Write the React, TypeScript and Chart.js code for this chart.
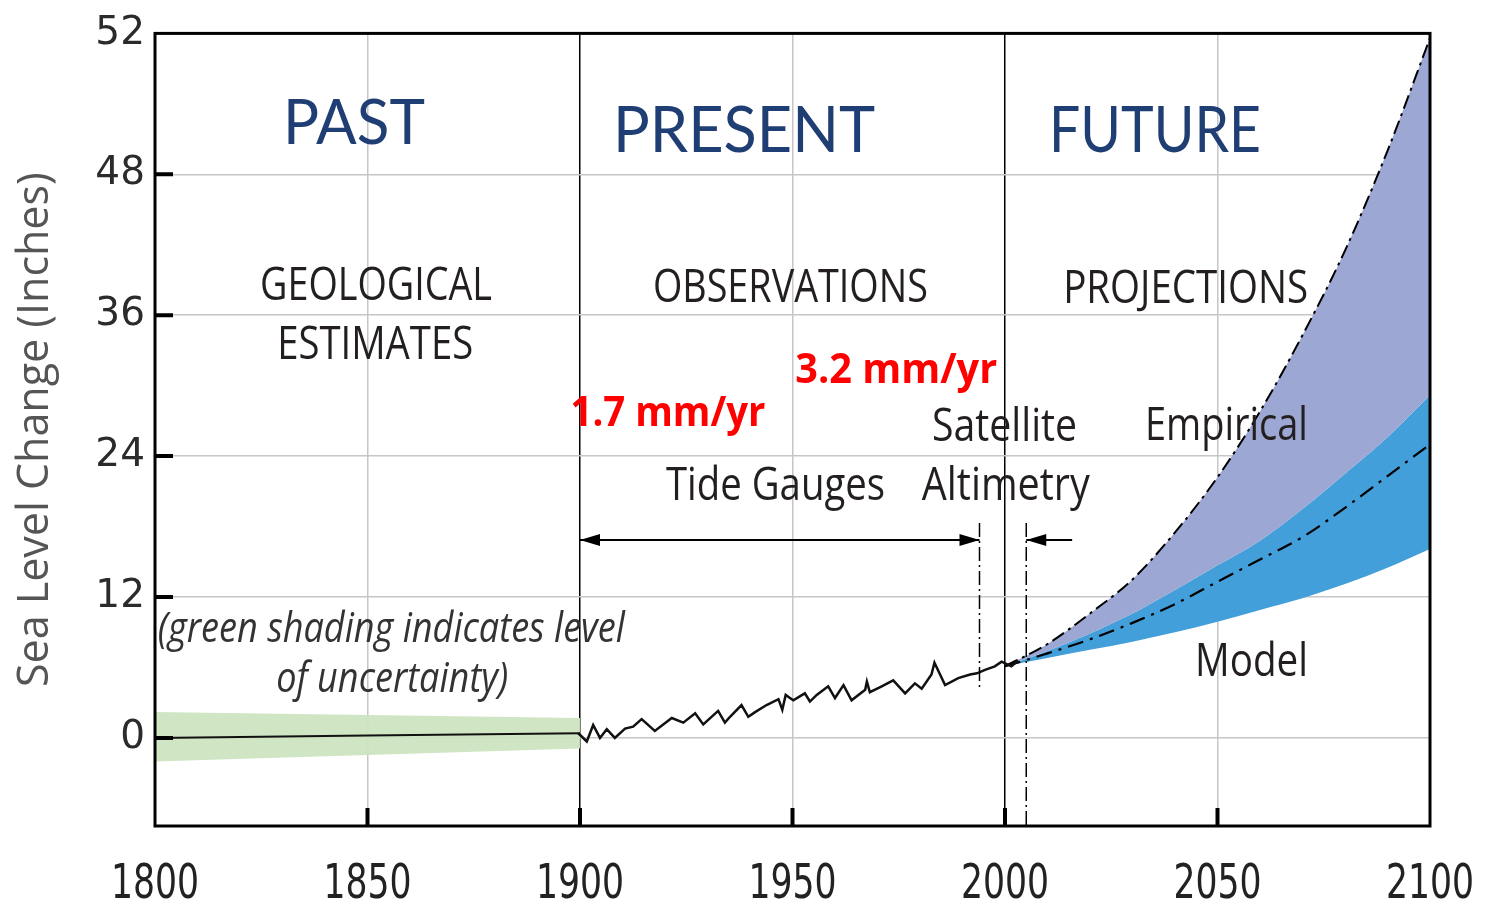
import React, { useEffect, useRef } from "react";
import { Chart, registerables } from "chart.js";

Chart.register(...registerables);

// ---------- data ----------
const geoYears = [1800, 1850, 1900];
const geoLevels = [0.0, 0.2, 0.4];
const geoUpper = [2.2, 1.95, 1.7];
const geoLower = [-2.0, -1.45, -0.9];

const tideYears = [
  1899.6, 1901.6, 1903.1, 1904.7, 1906.3, 1908.2, 1910.6, 1912.5, 1914.5, 1917.6,
  1921.6, 1924.3, 1927.1, 1929, 1932.5, 1934.1, 1935.3, 1938, 1939.6, 1941.2,
  1943.9, 1946.7, 1947.6, 1948.4, 1949.4, 1950.2, 1952.9, 1954.1, 1955.7, 1958.4,
  1960, 1962, 1963.9, 1967.1, 1967.5, 1968.2, 1971, 1973.7, 1976.5, 1978.8,
  1980.4, 1982.7, 1983.4, 1985.9, 1989, 1991.8, 1993.4, 1995.3, 1997.6, 1999.2,
  2001.5, 2003.1,
];
const tideLevels = [
  0.4, -0.3, 1.1, 0.0, 0.74, 0.0, 0.8, 0.96, 1.6, 0.6,
  1.7, 1.3, 2.1, 1.15, 2.3, 1.3, 1.8, 2.8, 1.8, 2.2,
  2.8, 3.3, 2.4, 3.66, 3.4, 3.2, 3.8, 3.1, 3.66, 4.4,
  3.4, 4.5, 3.2, 4.1, 4.8, 3.9, 4.4, 4.9, 3.8, 4.65,
  4.2, 5.4, 6.4, 4.5, 5.1, 5.4, 5.5, 5.8, 6.1, 6.5,
  6.1, 6.6,
];

const projYears = [2000, 2010, 2020, 2030, 2040, 2050, 2060, 2070, 2080, 2090, 2100];
const empiricalUpper = [6.1, 8.0, 10.6, 13.5, 17.5, 22.2, 27.8, 34.3, 41.5, 50.0, 59.6];
const modelUpper = [6.1, 7.4, 8.9, 10.6, 12.6, 14.7, 16.8, 19.5, 22.5, 25.6, 29.2];
const modelMid = [6.1, 7.2, 8.4, 9.8, 11.4, 13.3, 15.2, 17.1, 19.6, 22.3, 25.0];
const modelLower = [6.1, 6.8, 7.5, 8.2, 9.0, 9.9, 10.9, 11.9, 13.1, 14.5, 16.1];

const xTicks = [1800, 1850, 1900, 1950, 2000, 2050, 2100];
const xTickLabels = ["1800", "1850", "1900", "1950", "2000", "2050", "2100"];
const yTicks = [0, 12, 24, 36, 48, 60];
const yTickLabels = ["0", "12", "24", "36", "48", "52"];

// ---------- annotations (data coords) ----------
type Note = { text: string; x: number; y: number; font: string; color: string; w: number };
const NAVY = "#1f3e74";
const INK = "#231f20";
const RED = "#ff0000";
const notes: Note[] = [
  { text: "PAST", x: 1846.8, y: 50.6, font: "62px Lato", color: NAVY, w: 142 },
  { text: "PRESENT", x: 1938.6, y: 49.9, font: "64px Lato", color: NAVY, w: 262 },
  { text: "FUTURE", x: 2035.3, y: 49.9, font: "64px Lato", color: NAVY, w: 212 },
  { text: "GEOLOGICAL", x: 1852, y: 37.3, font: "46px 'Open Sans'", color: INK, w: 232 },
  { text: "ESTIMATES", x: 1851.8, y: 32.3, font: "46px 'Open Sans'", color: INK, w: 196 },
  { text: "OBSERVATIONS", x: 1949.5, y: 37.1, font: "46px 'Open Sans'", color: INK, w: 275 },
  { text: "PROJECTIONS", x: 2042.5, y: 37.0, font: "46px 'Open Sans'", color: INK, w: 245 },
  { text: "1.7 mm/yr", x: 1920.7, y: 26.6, font: "bold 42px 'Open Sans'", color: RED, w: 195 },
  { text: "3.2 mm/yr", x: 1974.4, y: 30.2, font: "bold 42px 'Open Sans'", color: RED, w: 202 },
  { text: "Satellite", x: 1999.9, y: 25.3, font: "46px 'Open Sans'", color: INK, w: 145 },
  { text: "Altimetry", x: 2000.2, y: 20.3, font: "46px 'Open Sans'", color: INK, w: 168 },
  { text: "Tide Gauges", x: 1946, y: 20.3, font: "46px 'Open Sans'", color: INK, w: 219 },
  { text: "Empirical", x: 2052.1, y: 25.4, font: "46px 'Open Sans'", color: INK, w: 163 },
  { text: "Model", x: 2058, y: 5.3, font: "46px 'Open Sans'", color: INK, w: 113 },
  { text: "(green shading indicates level", x: 1855.6, y: 8.2, font: "italic 42px 'Open Sans'", color: "#333", w: 467 },
  { text: "of uncertainty)", x: 1855.8, y: 3.9, font: "italic 42px 'Open Sans'", color: "#333", w: 232 },
];

const arrowLevel = 16.85;
const tideSpan = [1900, 1994];
const satStart = 2005;
const satArrowTail = 2015.8;
const markerTop = 18.3;
const tideMarkerBottom = 4.1;

const overlayPlugin = {
  id: "overlay",
  afterDatasetsDraw(chart: any) {
    const { ctx, chartArea, scales } = chart;
    const xs = scales.x;
    const ys = scales.y;
    const px = (v: number) => xs.getPixelForValue(v);
    const py = (v: number) => ys.getPixelForValue(v);
    ctx.save();

    // dash-dot vertical markers
    ctx.strokeStyle = "#000";
    ctx.lineWidth = 1.5;
    ctx.setLineDash([14, 4, 2, 4]);
    ctx.beginPath();
    ctx.moveTo(px(tideSpan[1]), py(markerTop));
    ctx.lineTo(px(tideSpan[1]), py(tideMarkerBottom));
    ctx.moveTo(px(satStart), py(markerTop));
    ctx.lineTo(px(satStart), chartArea.bottom);
    ctx.stroke();
    ctx.setLineDash([]);

    // arrows
    const ay = py(arrowLevel);
    ctx.lineWidth = 2;
    ctx.beginPath();
    ctx.moveTo(px(tideSpan[0]), ay);
    ctx.lineTo(px(tideSpan[1]), ay);
    ctx.moveTo(px(satArrowTail), ay);
    ctx.lineTo(px(satStart), ay);
    ctx.stroke();
    const head = (tipX: number, dir: number) => {
      ctx.beginPath();
      ctx.moveTo(tipX, ay);
      ctx.lineTo(tipX + dir * 20, ay - 6);
      ctx.lineTo(tipX + dir * 20, ay + 6);
      ctx.closePath();
      ctx.fillStyle = "#000";
      ctx.fill();
    };
    head(px(tideSpan[0]), 1);
    head(px(tideSpan[1]), -1);
    head(px(satStart), 1);

    // texts
    ctx.textAlign = "center";
    ctx.textBaseline = "alphabetic";
    for (const n of notes) {
      ctx.font = n.font;
      ctx.fillStyle = n.color;
      ctx.fillText(n.text, px(n.x), py(n.y), n.w);
    }

    // x tick labels (narrow face)
    ctx.font = "48px 'DejaVu Sans'";
    ctx.fillStyle = "#222";
    xTicks.forEach((t, i) => {
      ctx.fillText(xTickLabels[i], px(t), chartArea.bottom + 72, 88);
    });

    // frame
    ctx.strokeStyle = "#000";
    ctx.lineWidth = 3;
    ctx.strokeRect(chartArea.left, chartArea.top, chartArea.right - chartArea.left, chartArea.bottom - chartArea.top);

    // inner tick marks
    ctx.lineWidth = 4;
    ctx.beginPath();
    for (const t of xTicks) {
      if (t === xTicks[0] || t === xTicks[xTicks.length - 1]) continue;
      ctx.moveTo(px(t), chartArea.bottom);
      ctx.lineTo(px(t), chartArea.bottom - 18);
    }
    for (const t of yTicks) {
      if (t === yTicks[yTicks.length - 1]) continue;
      ctx.moveTo(chartArea.left, py(t));
      ctx.lineTo(chartArea.left + 18, py(t));
    }
    ctx.stroke();
    ctx.restore();
  },
};

const pts = (xsArr: number[], ysArr: number[]) => xsArr.map((x, i) => ({ x, y: ysArr[i] }));

export default function App() {
  const ref = useRef<HTMLCanvasElement>(null);
  useEffect(() => {
    if (!ref.current) return;
    const GREEN = "rgba(204, 228, 193, 0.95)";
    const BLUE = "#439fd9";
    const PURPLE = "#9ca7d3";
    const chart = new Chart(ref.current, {
      type: "line",
      data: {
        datasets: [
          { order: 3, data: pts(geoYears, geoLower), borderWidth: 0, pointRadius: 0, fill: false, borderColor: "transparent" },
          { order: 3, data: pts(geoYears, geoUpper), borderWidth: 0, pointRadius: 0, fill: 0, backgroundColor: GREEN, borderColor: "transparent" },
          { order: 1, data: pts(geoYears, geoLevels), borderWidth: 2, pointRadius: 0, fill: false, borderColor: "#111" },
          { order: 3, data: pts(projYears, modelLower), borderWidth: 0, pointRadius: 0, fill: false, borderColor: "transparent", cubicInterpolationMode: "monotone" },
          { order: 3, data: pts(projYears, modelUpper), borderWidth: 0, pointRadius: 0, fill: 3, backgroundColor: BLUE, borderColor: "transparent", cubicInterpolationMode: "monotone" },
          { order: 2, data: pts(projYears, empiricalUpper), borderWidth: 2, borderDash: [14, 5, 3, 5], pointRadius: 0, fill: 4, backgroundColor: PURPLE, borderColor: "#000", cubicInterpolationMode: "monotone" },
          { order: 1, data: pts(projYears, modelMid), borderWidth: 2.2, borderDash: [16, 7, 3, 7], pointRadius: 0, fill: false, borderColor: "#000", cubicInterpolationMode: "monotone" },
          { order: 0, data: pts(tideYears, tideLevels), borderWidth: 2.5, pointRadius: 0, fill: false, borderColor: "#111", tension: 0 },
        ] as any,
      },
      options: {
        animation: false,
        responsive: false,
        layout: { padding: { top: 33, right: 65, left: 0, bottom: 0 } },
        plugins: { legend: { display: false }, tooltip: { enabled: false } },
        scales: {
          x: {
            type: "linear",
            min: 1800,
            max: 2100,
            afterBuildTicks: (s: any) => { s.ticks = xTicks.map((v) => ({ value: v })); },
            afterFit: (s: any) => { s.height = 74; },
            border: { display: false },
            grid: {
              drawTicks: false,
              lineWidth: 1.5,
              color: (c: any) => {
                const v = c.tick?.value;
                if (v === 1800 || v === 2100) return "transparent";
                if (v === 1900 || v === 2000) return "#000";
                return "#c6c6c6";
              },
            },
            ticks: { display: false },
          },
          y: {
            type: "linear",
            min: -7.5,
            max: 60,
            afterBuildTicks: (s: any) => { s.ticks = yTicks.map((v) => ({ value: v })); },
            afterFit: (s: any) => { s.width = 155; },
            border: { display: false },
            grid: {
              drawTicks: false,
              lineWidth: 1.5,
              color: (c: any) => (c.tick?.value === 60 ? "transparent" : "#c6c6c6"),
            },
            ticks: {
              padding: 10,
              color: "#2b2b2b",
              font: { family: "'DejaVu Sans'", size: 39 },
              callback: (v: any) => {
                const i = yTicks.indexOf(Number(v));
                return i >= 0 ? yTickLabels[i] : "";
              },
            },
            title: {
              display: true,
              text: "Sea Level Change (Inches)",
              color: "#555",
              font: { family: "'Open Sans'", size: 43 },
              padding: { top: 10, bottom: 0 },
            },
          },
        },
      },
      plugins: [overlayPlugin],
    });
    return () => chart.destroy();
  }, []);
  return (
    <div style={{ position: "fixed", left: 0, top: 0, width: 1495, height: 900, background: "#fff" }}>
      <canvas ref={ref} width={1495} height={900} style={{ display: "block" }} />
    </div>
  );
}
